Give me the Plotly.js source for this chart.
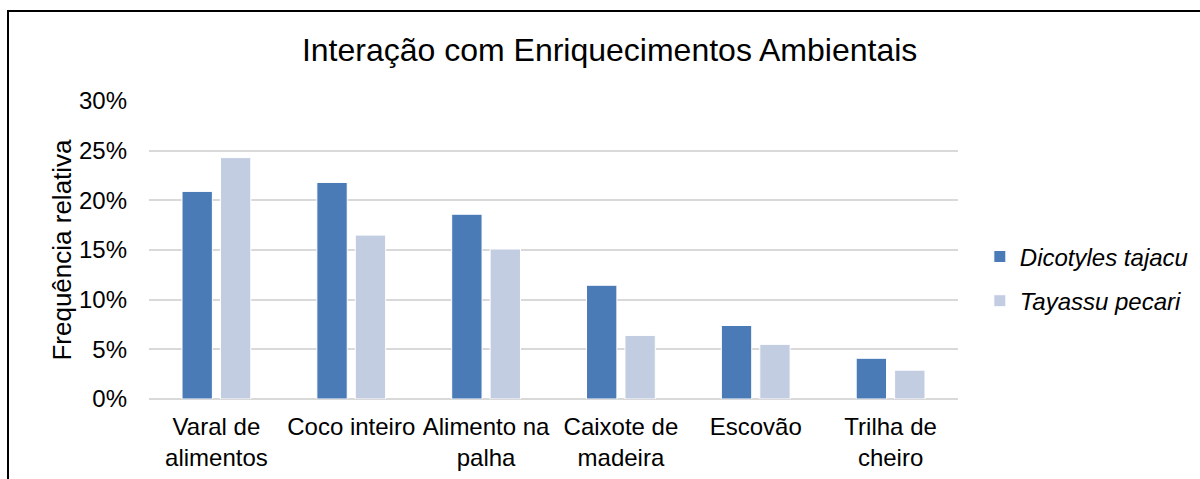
<!DOCTYPE html>
<html>
<head>
<meta charset="utf-8">
<script src="https://cdn.plot.ly/plotly-3.0.1.min.js"></script>
<style>
  html, body { margin: 0; padding: 0; background: #fff; }
  #wrap { position: relative; width: 1200px; height: 479px; overflow: hidden; }
  #chart { position: absolute; left: 0; top: 0; width: 1200px; height: 479px; }
  #frame { position: absolute; left: 7px; top: 10px; width: 1400px; height: 700px;
           border-left: 2px solid #000; border-top: 2px solid #000; pointer-events: none; }
</style>
</head>
<body>
<div id="wrap">
  <div id="chart"></div>
  <div id="frame"></div>
</div>
<script>
const categories = [
  "Varal de<br>alimentos",
  "Coco inteiro",
  "Alimento na<br>palha",
  "Caixote de<br>madeira",
  "Escovão",
  "Trilha de<br>cheiro"
];
const seriesNames = ["<i>Dicotyles tajacu</i>", "<i>Tayassu pecari</i>"];
const dicotylesTajacu = [20.9, 21.8, 18.6, 11.45, 7.4, 4.1];
const tayassuPecari = [24.3, 16.5, 15.1, 6.4, 5.5, 2.9];
const yTickValues = [0, 5, 10, 15, 20, 25, 30];
const yTickLabels = ["0%", "5%", "10%", "15%", "20%", "25%", "30%"];

const FONT = "Liberation Sans, Arial, sans-serif";

const traces = [
  {
    type: "bar", name: seriesNames[0], x: categories, y: dicotylesTajacu,
    legendgroup: "a",
    marker: { color: "#4A7BB7", line: { color: "#ffffff", width: 1 } },
    hoverinfo: "skip"
  },
  {
    type: "bar", name: seriesNames[1], x: categories, y: tayassuPecari,
    legendgroup: "b",
    marker: { color: "#C3CDE2", line: { color: "#ffffff", width: 1 } },
    hoverinfo: "skip"
  }
];

const layout = {
  width: 1200, height: 479,
  paper_bgcolor: "#ffffff", plot_bgcolor: "#ffffff",
  margin: { l: 149, r: 242, t: 101, b: 80, autoexpand: false },
  font: { family: FONT, color: "#000000", size: 24 },
  title: {
    text: "Interação com Enriquecimentos Ambientais",
    font: { family: FONT, size: 32, color: "#000000" },
    xref: "container", yref: "container",
    x: 0.508, xanchor: "center",
    y: 0.896, yanchor: "middle"
  },
  barmode: "group",
  bargap: 0.43,
  bargroupgap: 0.21,
  xaxis: {
    type: "category",
    showgrid: false, zeroline: false, showline: false,
    ticks: "", ticklabelstandoff: 11,
    tickfont: { family: FONT, size: 24, color: "#000" },
    automargin: false
  },
  yaxis: {
    range: [0, 30],
    tickmode: "array",
    tickvals: yTickValues,
    ticktext: yTickLabels,
    showgrid: true, gridcolor: "#D9D9D9", gridwidth: 2,
    zeroline: true, zerolinecolor: "#D9D9D9", zerolinewidth: 2,
    showline: false, ticks: "",
    ticklabelstandoff: 21,
    tickfont: { family: FONT, size: 24, color: "#000" },
    title: { text: "Frequência relativa", font: { family: FONT, size: 26, color: "#000" } },
    automargin: false
  },
  legend: {
    x: 1.027, xanchor: "left",
    y: 0.403, yanchor: "middle",
    font: { family: FONT, size: 24, color: "#000" },
    traceorder: "grouped",
    tracegroupgap: 10,
    bgcolor: "rgba(0,0,0,0)"
  },
  showlegend: true
};

Plotly.newPlot("chart", traces, layout, { staticPlot: true, displayModeBar: false });
</script>
</body>
</html>
